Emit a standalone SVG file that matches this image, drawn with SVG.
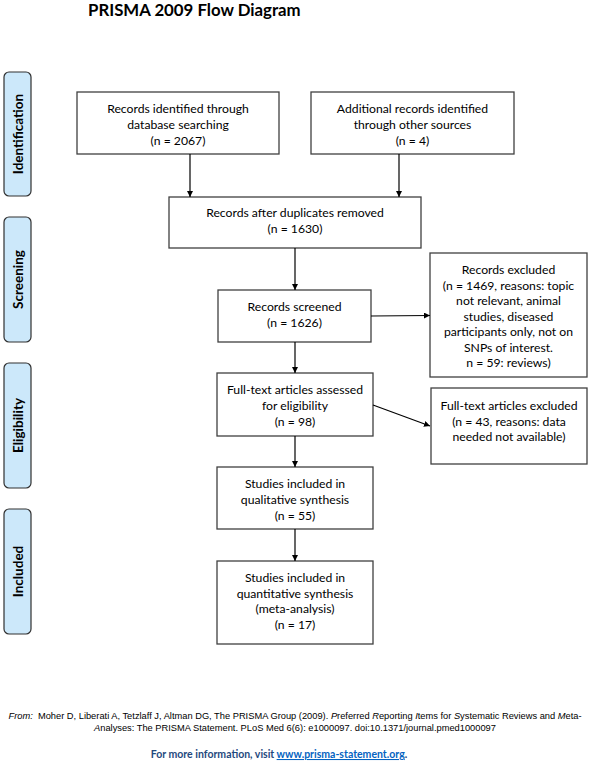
<svg xmlns="http://www.w3.org/2000/svg" width="590" height="780" viewBox="0 0 590 780">
<style>
.box{fill:#ffffff;stroke:#404040;stroke-width:1.3}
.side{fill:#cce8fa;stroke:#303030;stroke-width:1.2}
.t{font-family:Lato,"Open Sans",sans-serif;font-size:12.2px;fill:#000;text-anchor:middle}
.st{font-family:Lato,"Open Sans",sans-serif;font-size:13.5px;font-weight:bold;fill:#000;text-anchor:middle}
.ttl{font-family:Lato,"Open Sans",sans-serif;font-size:16.8px;font-weight:bold;fill:#000}
.ft{font-family:"Liberation Sans",Arial,sans-serif;font-size:9.3px;fill:#000;text-anchor:middle}
.fm{font-family:Lato,"Open Sans",sans-serif;font-size:10.5px;font-weight:bold;fill:#1f497d;text-anchor:middle}
.conn{stroke:#000;stroke-width:1.2;fill:none;marker-end:url(#ah)}
</style>
<defs>
<marker id="ah" viewBox="0 0 10 10" refX="10" refY="5" markerWidth="6" markerHeight="6" markerUnits="userSpaceOnUse" orient="auto">
<path d="M0,0 L10,5 L0,10 Z" fill="#000"/>
</marker>
</defs>
<rect width="590" height="780" fill="#fff"/>
<text class="ttl" x="88" y="16">PRISMA 2009 Flow Diagram</text>

<g id="lbl-identification"><rect class="side" x="4" y="72" width="27" height="124" rx="5"/><text class="st" transform="translate(22.5,134) rotate(-90)">Identification</text></g>
<g id="lbl-screening"><rect class="side" x="4" y="217" width="27" height="125" rx="5"/><text class="st" transform="translate(22.5,279.5) rotate(-90)">Screening</text></g>
<g id="lbl-eligibility"><rect class="side" x="4" y="363" width="27" height="125" rx="5"/><text class="st" transform="translate(22.5,425.5) rotate(-90)">Eligibility</text></g>
<g id="lbl-included"><rect class="side" x="4" y="509" width="27" height="125" rx="5"/><text class="st" transform="translate(22.5,571.5) rotate(-90)">Included</text></g>

<g id="n-db"><rect class="box" x="77" y="92" width="202" height="62"/>
<text class="t" x="178" y="113">Records identified through</text><text class="t" x="178" y="129">database searching</text><text class="t" x="178" y="145">(n = 2067)</text></g>
<g id="n-other"><rect class="box" x="311" y="92" width="203" height="62"/>
<text class="t" x="412.5" y="113">Additional records identified</text><text class="t" x="412.5" y="129">through other sources</text><text class="t" x="412.5" y="145">(n = 4)</text></g>
<g id="n-dup"><rect class="box" x="169" y="197" width="252" height="51"/>
<text class="t" x="295" y="217">Records after duplicates removed</text><text class="t" x="295" y="233">(n = 1630)</text></g>
<g id="n-screened"><rect class="box" x="218" y="290" width="153" height="52"/>
<text class="t" x="294.5" y="311">Records screened</text><text class="t" x="294.5" y="327">(n = 1626)</text></g>
<g id="n-excl1"><rect class="box" x="430" y="253" width="157" height="124"/>
<text class="t" x="508.5" y="274">Records excluded</text><text class="t" x="508.5" y="290">(n = 1469, reasons: topic</text><text class="t" x="508.5" y="305">not relevant, animal</text><text class="t" x="508.5" y="321">studies, diseased</text><text class="t" x="508.5" y="336">participants only, not on</text><text class="t" x="508.5" y="352">SNPs of interest.</text><text class="t" x="508.5" y="367">n = 59: reviews)</text></g>
<g id="n-full"><rect class="box" x="217" y="373" width="156" height="63"/>
<text class="t" x="295" y="394">Full-text articles assessed</text><text class="t" x="295" y="410">for eligibility</text><text class="t" x="295" y="426">(n = 98)</text></g>
<g id="n-excl2"><rect class="box" x="431" y="388" width="156" height="76"/>
<text class="t" x="509" y="410">Full-text articles excluded</text><text class="t" x="509" y="426">(n = 43, reasons: data</text><text class="t" x="509" y="441">needed not available)</text></g>
<g id="n-qual"><rect class="box" x="217" y="467" width="156" height="62"/>
<text class="t" x="295" y="488">Studies included in</text><text class="t" x="295" y="504">qualitative synthesis</text><text class="t" x="295" y="520">(n = 55)</text></g>
<g id="n-quant"><rect class="box" x="217" y="561" width="156" height="83"/>
<text class="t" x="295" y="582">Studies included in</text><text class="t" x="295" y="598">quantitative synthesis</text><text class="t" x="295" y="613">(meta-analysis)</text><text class="t" x="295" y="629">(n = 17)</text></g>

<g id="connectors">
<line class="conn" x1="190" y1="154" x2="190" y2="197"/>
<line class="conn" x1="399" y1="154" x2="399" y2="197"/>
<line class="conn" x1="295" y1="248" x2="295" y2="290"/>
<line class="conn" x1="371" y1="316" x2="430" y2="315.5"/>
<line class="conn" x1="295" y1="342" x2="295" y2="373"/>
<line class="conn" x1="373" y1="405" x2="430" y2="426"/>
<line class="conn" x1="295" y1="436" x2="295" y2="467"/>
<line class="conn" x1="295" y1="529" x2="295" y2="561"/>
</g>

<text class="ft" x="295" y="719" xml:space="preserve"><tspan font-style="italic">From:</tspan>  Moher D, Liberati A, Tetzlaff J, Altman DG, The PRISMA Group (2009). <tspan font-style="italic">P</tspan>referred <tspan font-style="italic">R</tspan>eporting <tspan font-style="italic">I</tspan>tems for <tspan font-style="italic">S</tspan>ystematic Reviews and <tspan font-style="italic">M</tspan>eta-</text>
<text class="ft" x="295" y="731"><tspan font-style="italic">A</tspan>nalyses: The PRISMA Statement. PLoS Med 6(6): e1000097. doi:10.1371/journal.pmed1000097</text>
<text class="fm" x="279" y="758">For more information, visit <tspan fill="#0563c1" text-decoration="underline">www.prisma-statement.org</tspan>.</text>
</svg>
